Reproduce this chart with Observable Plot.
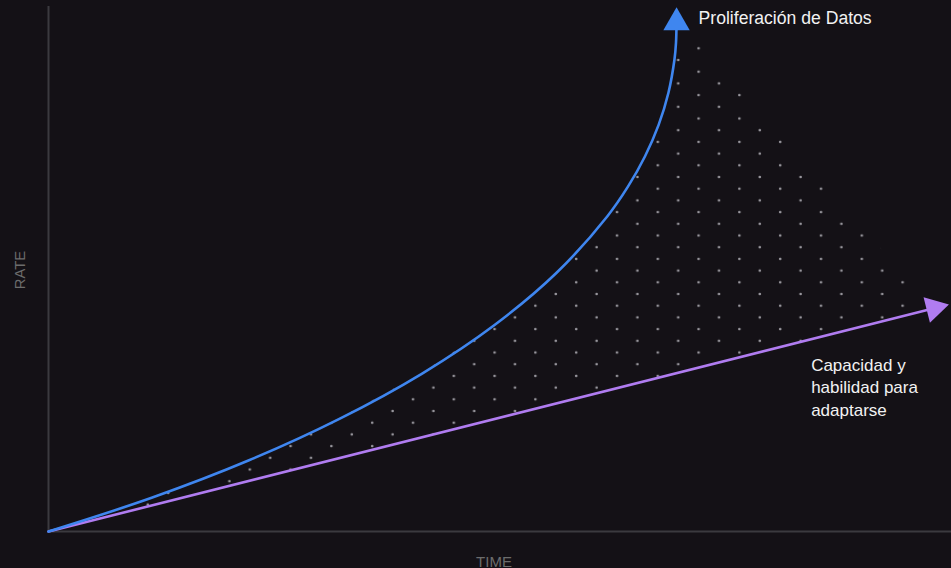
<!DOCTYPE html>
<html><head><meta charset="utf-8">
<script src="https://cdn.jsdelivr.net/npm/d3@7"></script>
<script src="https://cdn.jsdelivr.net/npm/@observablehq/plot@0.6"></script>
<style>html,body{margin:0;padding:0;background:#141116;overflow:hidden}#chart svg{display:block}</style>
</head><body><div id="chart"></div>
<script>
// Blue curve: "Proliferación de Datos" (time, rate), arbitrary units 0–100
const blueTime = [0, 11.46, 22.28, 32.32, 41.47, 49.56, 56.48, 62.1, 64.38, 66.28, 67.79, 68.88, 69.55, 69.72, 69.78];
const blueRate = [0, 6.42, 13.56, 21.45, 30.04, 39.33, 49.33, 60.06, 65.68, 71.48, 77.45, 83.58, 89.9, 93.12, 96.95];
// Purple line: "Capacidad y habilidad para adaptarse"
const purpleTime = [0, 98.4];
const purpleRate = [0, 42.53];
// Upper edge of the dotted zone to the right of the blue curve's tip
const zoneEdgeTime = [69.75, 72.44, 78.78, 82.44, 96.0];
const zoneEdgeRate = [93.14, 93.14, 80.19, 72.95, 47.24];
// Texts
const seriesLabels = ["Proliferación de Datos", "Capacidad y\nhabilidad para\nadaptarse"];
const axisLabels = ["TIME", "RATE"];

const blue = blueTime.map((t, i) => ({time: t, rate: blueRate[i]}));
const purple = purpleTime.map((t, i) => ({time: t, rate: purpleRate[i]}));
const purpleAt = d3.scaleLinear().domain(purpleTime).range(purpleRate);
const zone = blue.filter(d => d.rate <= zoneEdgeRate[0])
  .concat(zoneEdgeTime.map((t, i) => ({time: t, rate: zoneEdgeRate[i]})))
  .map(d => ({time: d.time, low: purpleAt(d.time), high: d.rate}));
const blueEnd = blue[blue.length - 1];
const purpleEnd = purple[purple.length - 1];

const font = "'Liberation Sans', Arial, sans-serif";
const BLUE = "#3f86ef", PURPLE = "#b07cf0", AXIS = "#3b3a3f";

const plot = Plot.plot({
  width: 951, height: 568,
  marginLeft: 48, marginRight: 0, marginTop: 6, marginBottom: 37,
  style: {background: "#141116", fontFamily: font, overflow: "visible"},
  x: {domain: [0, 100.33], axis: null},
  y: {domain: [0, 100], axis: null},
  marks: [
    Plot.areaY(zone, {x: "time", y1: "low", y2: "high", fill: "url(#dotgrid)", curve: "linear"}),
    Plot.ruleX([0], {stroke: AXIS, strokeWidth: 2}),
    Plot.ruleY([0], {stroke: AXIS, strokeWidth: 2}),
    Plot.line(purple, {x: "time", y: "rate", stroke: PURPLE, strokeWidth: 2.6}),
    Plot.line(blue, {x: "time", y: "rate", stroke: BLUE, strokeWidth: 2.6, curve: "catmull-rom"}),
    Plot.dot([blueEnd], {x: "time", y: "rate", symbol: "triangle", r: 9.8, fill: BLUE, stroke: "none"}),
    Plot.dot([purpleEnd], {x: "time", y: "rate", symbol: "triangle", r: 9.8, fill: PURPLE, stroke: "none", rotate: 76}),
    Plot.text([blueEnd], {x: "time", y: "rate", text: () => seriesLabels[0], textAnchor: "start", lineAnchor: "bottom", dx: 22, dy: 1, fill: "#f2f2f2", fontSize: 17.6}),
    Plot.text([purpleEnd], {x: "time", y: "rate", text: () => seriesLabels[1], textAnchor: "start", lineAnchor: "bottom", lineHeight: 1.3, dx: -123, dy: 107.3, fill: "#f2f2f2", fontSize: 17}),
    Plot.text([axisLabels[0]], {frameAnchor: "bottom", text: d => d, textAnchor: "middle", lineAnchor: "bottom", dx: -6, dy: 35, fill: "#6c6c6c", fontSize: 15}),
    Plot.text([axisLabels[1]], {frameAnchor: "left", text: d => d, textAnchor: "middle", rotate: -90, lineAnchor: "bottom", dx: -23.5, dy: 1, fill: "#6c6c6c", fontSize: 14.8})
  ]
});

// dotted texture used to fill the zone between the curves
const ns = "http://www.w3.org/2000/svg";
const defs = document.createElementNS(ns, "defs");
const pat = document.createElementNS(ns, "pattern");
pat.setAttribute("id", "dotgrid");
pat.setAttribute("patternUnits", "userSpaceOnUse");
pat.setAttribute("x", 606.8); pat.setAttribute("y", 42.45);
pat.setAttribute("width", 40.8); pat.setAttribute("height", 23.4);
[[10.2, 5.85], [30.6, 17.55]].forEach(([cx, cy]) => {
  const c = document.createElementNS(ns, "circle");
  c.setAttribute("cx", cx); c.setAttribute("cy", cy); c.setAttribute("r", 1.3);
  c.setAttribute("fill", "#9b99a0");
  pat.appendChild(c);
});
defs.appendChild(pat);
plot.insertBefore(defs, plot.firstChild);
const areaG = plot.querySelector('g[aria-label="area"]');
if (areaG) { areaG.setAttribute("fill", "url(#dotgrid)"); areaG.querySelectorAll("path").forEach(p => p.removeAttribute("fill")); }
document.getElementById("chart").appendChild(plot);
</script>
</body></html>
